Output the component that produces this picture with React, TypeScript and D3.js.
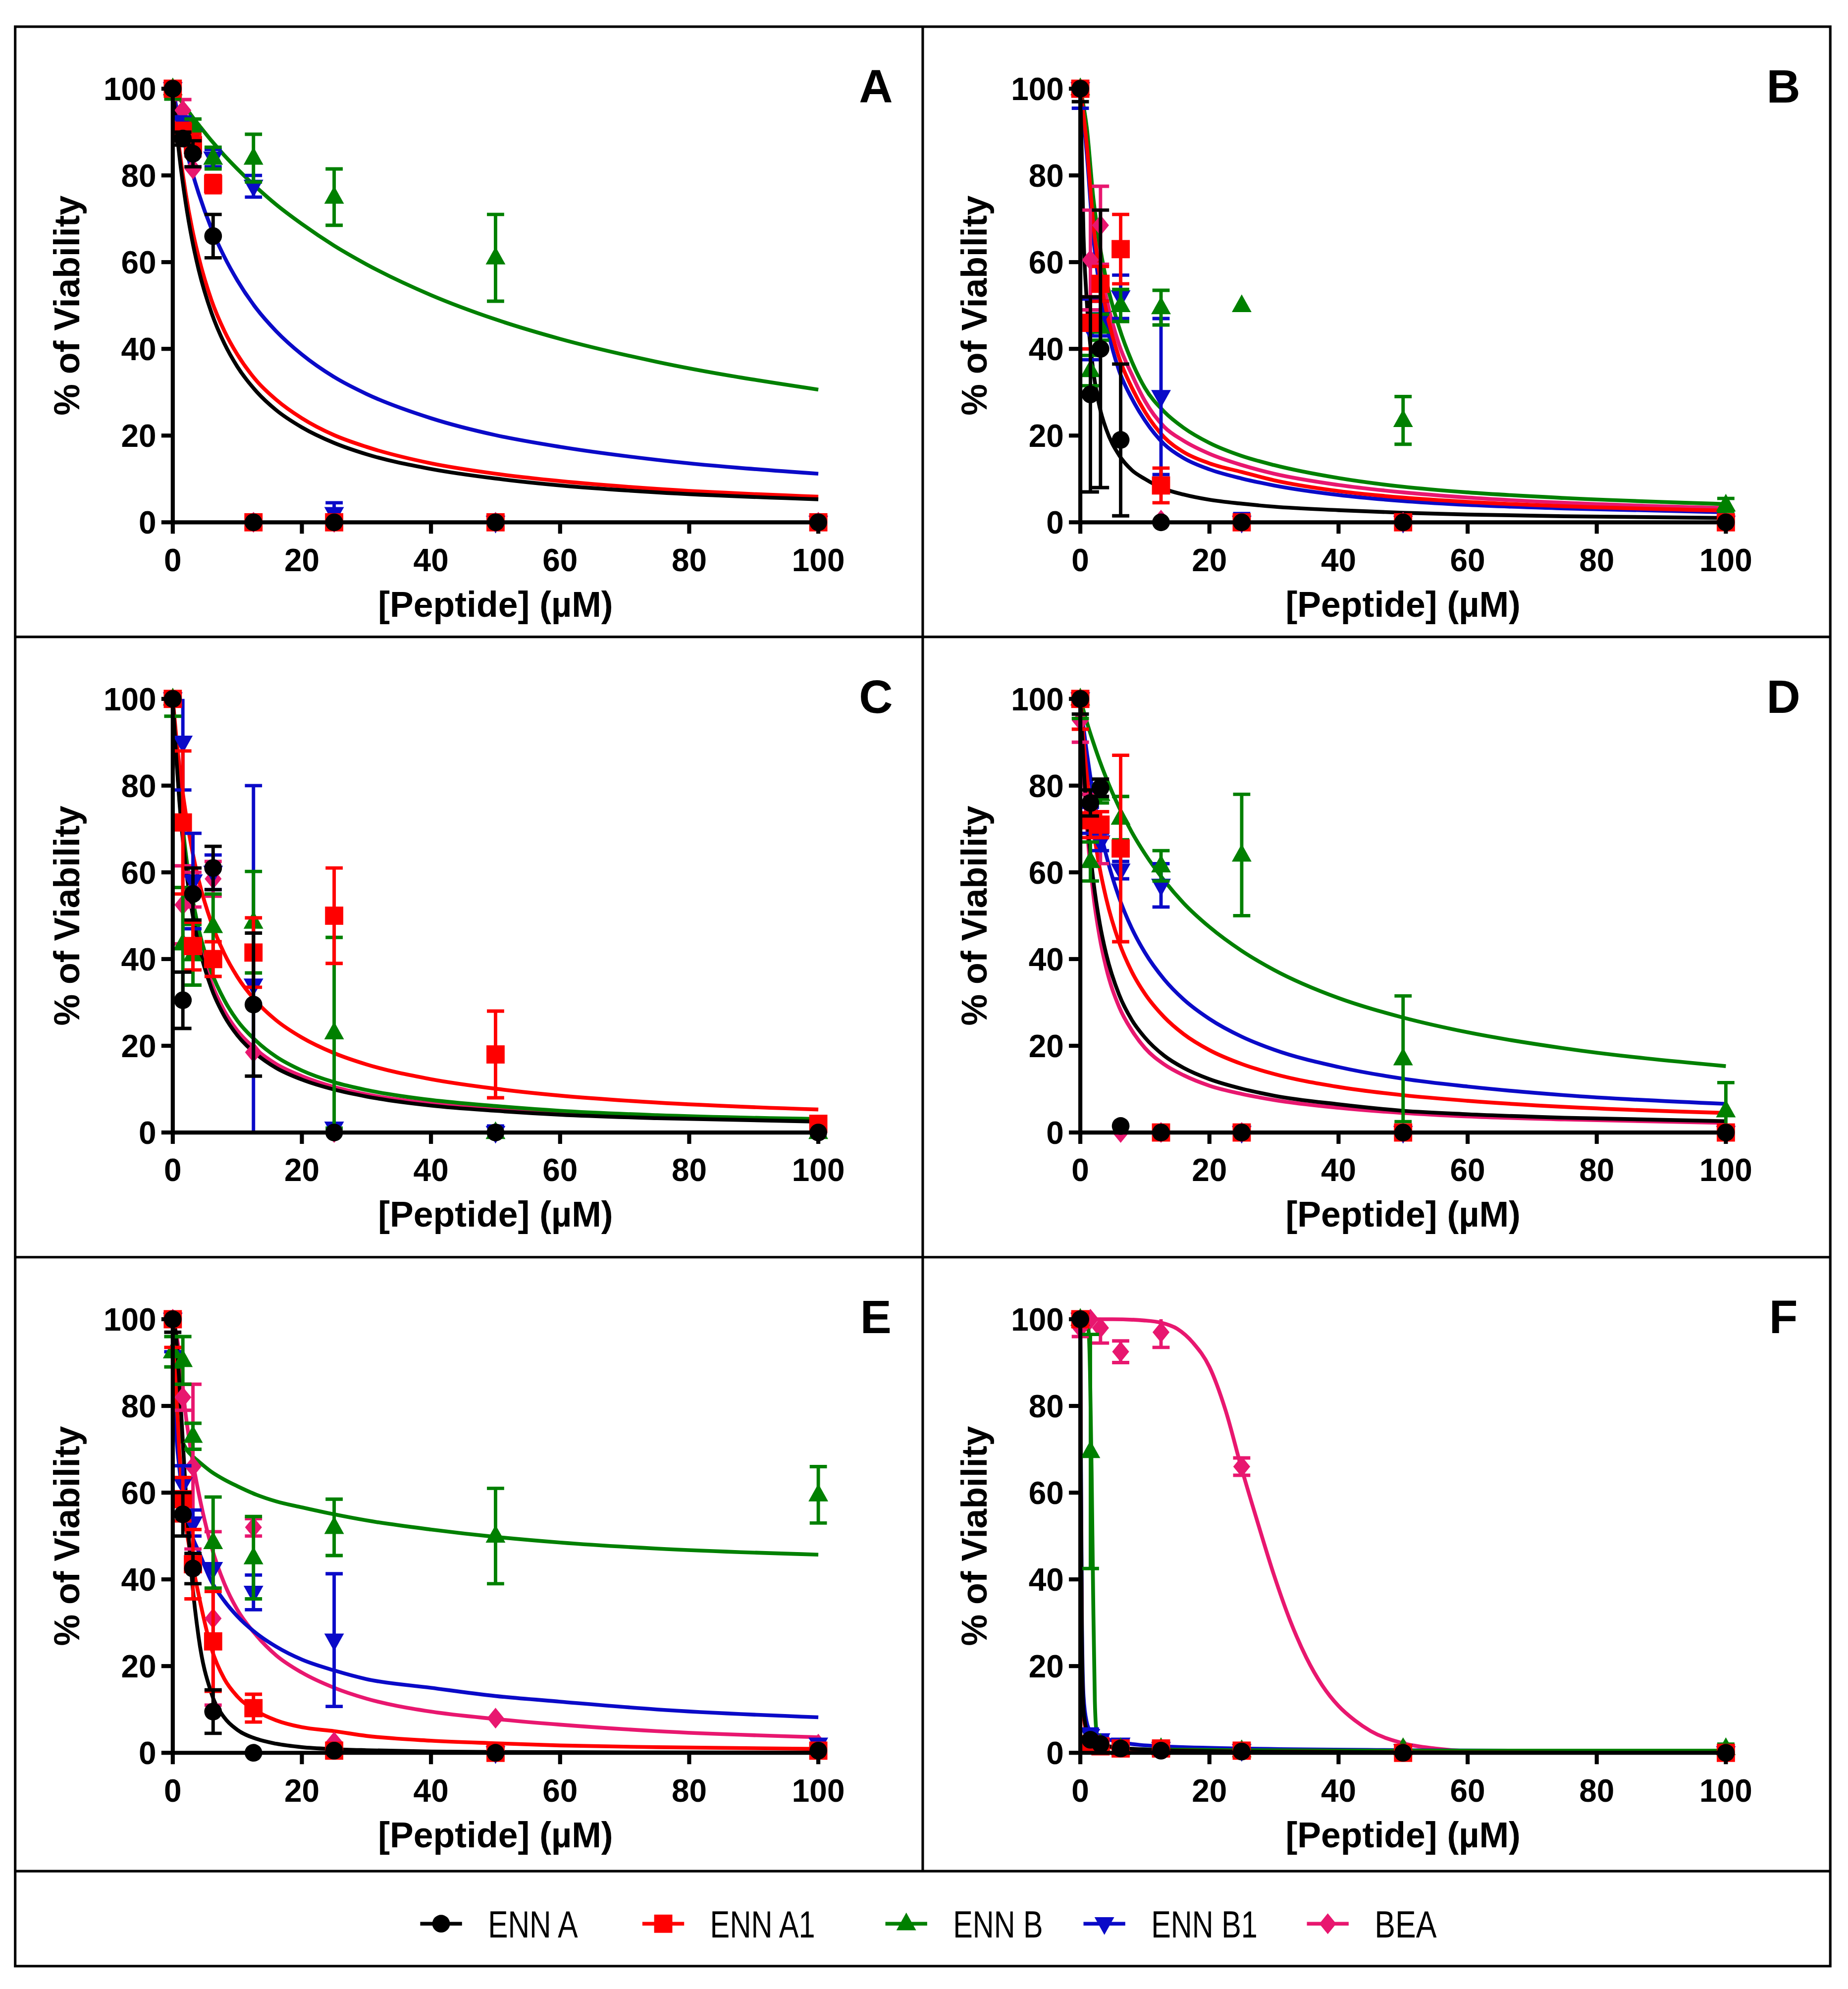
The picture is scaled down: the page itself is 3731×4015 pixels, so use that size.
import * as d3 from "d3";

// series order: ENN A, ENN A1, ENN B, ENN B1, BEA
const SERIES = ["ENN A", "ENN A1", "ENN B", "ENN B1", "BEA"];
const COLORS = ["#000000", "#ff0000", "#008000", "#0a0ac8", "#e8176f"];
const SHAPES = ["circle", "square", "triangle", "triangleDown", "diamond"];

const CONC = [0, 1.5625, 3.125, 6.25, 12.5, 25, 50, 100];
const TICKS = [0, 20, 40, 60, 80, 100];
const CURVE_X = [0, 0.5, 1, 2, 3, 4, 6, 8, 10, 13, 16, 20, 25, 30, 40, 50, 60, 75, 100];

// ---- Panel A
const A_MEAN = [
  [100, 88.5, 85, 66, 0, 0, 0, 0],
  [100, 90, 87, 78, 0, 0, 0, 0],
  [100, null, 91.5, 84, 84, 75, 61, null],
  [100, 92, 89, 84, 77.5, 2, 0, 0],
  [100, 95, 81.5, null, 0, 0, 0, 0],
];
const A_SD = [
  [0, 1.5, 3, 5, 0, 0, 0, 0],
  [0, 2, 2.5, 2, 0, 0, 0, 0],
  [2.4, 0, 1.5, 2.5, 5.5, 6.5, 10, 0],
  [0, 1.5, 1.5, 2, 2.5, 2.5, 0, 0],
  [0, 2.5, 0, 0, 0, 0, 0, 0],
];
const A_FIT = [
  [100, 91.8, 84.8, 73.7, 65.1, 58.3, 48.3, 41.2, 35.9, 30.1, 25.9, 21.9, 18.3, 15.7, 12.3, 10.1, 8.5, 6.9, 5.3],
  [100, 92.6, 86.3, 75.9, 67.7, 61.2, 51.2, 44.1, 38.7, 32.6, 28.3, 24.0, 20.1, 17.4, 13.6, 11.2, 9.5, 7.7, 5.9],
  [100, 98.9, 97.8, 95.7, 93.6, 91.7, 88, 84.6, 81.5, 77.2, 73.3, 68.8, 63.8, 59.5, 52.4, 46.8, 42.3, 37, 30.6],
  [100, 96.2, 92.6, 86.3, 80.8, 75.9, 67.7, 61.2, 55.8, 49.2, 44.1, 38.7, 33.5, 29.6, 24.0, 20.1, 17.4, 14.4, 11.2],
  null,
];

// ---- Panel B
const B_MEAN = [
  [100, 29.5, 40, 19, 0, 0, 0, 0],
  [100, 46, 55, 63, 8.5, 0, 0, 0],
  [100, 35, 45, 50, 49.5, 50, 23.5, 4],
  [100, 44.5, 47, 52, 29, 0, 0, 0],
  [100, 60.5, 68.5, null, 0.5, 0, 0, 0],
];
const B_SD = [
  [3, 22.5, 32, 17.5, 0, 0, 0, 0],
  [0, 6, 4, 8, 4, 0, 0, 0],
  [0, 3.5, 3, 3.7, 4, 0, 5.5, 1.5],
  [4.5, 7, 4, 5, 18, 2, 0, 0],
  [0, 11.5, 9, 0, 0, 0, 0, 0],
];
const B_FIT = [
  [100, 66, 51, 35, 26.5, 21.5, 15.5, 12, 10, 7.7, 6.4, 5.2, 4.3, 3.6, 2.8, 2.2, 1.8, 1.4, 1.0],
  [100, 94, 87, 69, 57, 49, 38, 31, 25.5, 19.6, 16.2, 13.6, 11.6, 9.7, 7.2, 5.7, 4.7, 3.7, 2.7],
  [100, 96, 91, 75, 64, 56, 45, 37, 31, 25.5, 21.8, 18.3, 15.3, 13.2, 10.2, 8.2, 6.9, 5.6, 4.2],
  [100, 93, 85, 66, 54, 46, 35, 28.5, 23.5, 18, 14.8, 12.2, 10.1, 8.5, 6.3, 4.9, 4.0, 3.2, 2.3],
  [100, 95, 89, 72, 60, 52, 41, 34, 28, 22, 18.8, 15.8, 13.2, 11.2, 8.6, 6.9, 5.7, 4.5, 3.3],
];

// ---- Panel C
const C_MEAN = [
  [100, 30.5, 55, 61, 29.5, 0, 0, 0],
  [100, 71.5, 43, 40, 41.5, 50, 18, 2],
  [100, 43.5, 41, 47.5, 48.5, 23, 0, 0],
  [100, 90, 58, 60, 34, 1, 0, null],
  [100, 52.5, 56, 58.5, 18.5, 0, 0, 0],
];
const C_SD = [
  [0, 6.5, 6, 5, 16.5, 0, 0, 0],
  [0, 16.5, 5.5, 4, 8, 11, 10, 0],
  [4, 13, 7, 7.5, 11.7, 22, 0, 0],
  [0, 11, 11, 4, 46, 0, 1.5, 0],
  [0, 9, 4, 4, 0, 0, 0, 0],
];
const C_FIT = [
  [100, 87.4, 76.8, 61.4, 50.9, 43.3, 33.2, 26.8, 22.4, 18.0, 14.9, 12.2, 9.9, 8.3, 6.2, 5.0, 4.1, 3.3, 2.5],
  [100, 91.8, 84.8, 73.7, 65.1, 58.3, 48.3, 41.2, 35.9, 30.1, 25.9, 21.9, 18.3, 15.7, 12.3, 10.1, 8.5, 6.9, 5.3],
  [100, 88.5, 79, 64.5, 54.5, 47, 37, 30.5, 25.8, 21, 17.5, 14.3, 11.6, 9.8, 7.5, 6.1, 5.0, 4.0, 3.1],
  null,
  [100, 87.8, 77.5, 62.5, 52, 44.5, 34.5, 28, 23.5, 19, 15.8, 13, 10.5, 8.8, 6.7, 5.4, 4.4, 3.6, 2.7],
];

// ---- Panel D
const D_MEAN = [
  [100, 76, 79.5, 1.5, 0, 0, 0, 0],
  [100, 72, 71, 65.5, 0, 0, 0, 0],
  [100, 62.5, 78, 72.5, 61.5, 64, 17, 5],
  [100, 72, 67, 60.5, 57, 0, 0, 0],
  [95, 75, 68, 0, 0, 0, 0, 0],
];
const D_SD = [
  [3.5, 3, 2, 0, 0, 0, 0, 0],
  [7, 4, 3, 21.5, 0, 0, 0, 0],
  [4.5, 4.5, 2, 5, 3.5, 14, 14.5, 6.5],
  [0, 3, 2, 2, 5, 0, 0, 0],
  [5, 3, 6, 0, 0, 0, 0, 0],
];
const D_FIT = [
  [100, 84.8, 73.7, 58.3, 48.3, 41.2, 31.8, 25.9, 21.9, 17.7, 14.9, 12.3, 10.1, 8.5, 6.5, 5.0, 4.2, 3.4, 2.6],
  [100, 90.4, 82.5, 70.1, 61, 54, 43.9, 37, 32, 26.6, 22.7, 19, 15.8, 13.5, 10.5, 8.6, 7.3, 5.9, 4.5],
  [100, 97.3, 94.7, 90, 85.7, 81.8, 75, 69.2, 64.3, 58.1, 52.9, 47.4, 41.9, 37.5, 31.0, 26.5, 23.1, 19.4, 15.3],
  [100, 93.4, 87.7, 78, 70.3, 64, 54.2, 47, 41.5, 35.3, 30.7, 26.2, 22.1, 19.1, 15.1, 12.4, 10.6, 8.6, 6.6],
  [100, 83, 71, 55, 45, 38, 29, 23.5, 19.5, 15.7, 13.2, 10.8, 8.9, 7.5, 5.7, 4.5, 3.7, 3, 2.2],
];

// ---- Panel E
const E_MEAN = [
  [100, 55, 42.5, 9.5, 0, 0.5, 0, 0.5],
  [100, 58.5, 43.5, 25.7, 10.3, 0.5, 0, 0.5],
  [92.5, 90.5, 73, 48.5, 45, 52, 50, 59.5],
  [100, 62, 53, 42.5, 37, 26, 0, 2],
  [100, 82, 66, 31, 52, 2.5, 8, 2],
];
const E_SD = [
  [3, 5, 3.5, 5, 0, 0, 0, 0],
  [6.5, 5, 8, 11.5, 3.2, 0, 0, 0],
  [3.5, 5.5, 3, 10.5, 9.5, 6.5, 11, 6.5],
  [7.5, 4.2, 3, 0, 4, 15.3, 0, 0],
  [0, 3, 19, 20, 2, 0, 0, 0],
];
const E_FIT = [
  [100, 96.2, 86, 60.4, 39.5, 26.7, 13.7, 8.1, 5.3, 3.2, 2.1, 1.3, 0.85, 0.6, 0.3, 0.2, 0.15, 0.1, 0.05],
  [100, 85, 70, 53, 44, 36.5, 24, 17, 13, 9.6, 7.5, 5.9, 5.0, 3.9, 2.8, 2.2, 1.7, 1.3, 0.9],
  [100, 82, 74.5, 70.3, 68.5, 67.2, 64.8, 63, 61.5, 59.5, 58, 56.6, 55, 53.6, 51.5, 49.8, 48.5, 47.1, 45.7],
  [100, 75, 66, 56, 50, 46.5, 39.5, 35, 31.5, 27.5, 24.5, 21.5, 19, 17, 15, 13.1, 11.8, 10, 8.2],
  [100, 97, 92, 78, 68, 60, 47.5, 39, 33, 27, 22.5, 18.5, 15, 12.5, 9.5, 7.8, 6.5, 5, 3.6],
];

// ---- Panel F
const F_MEAN = [
  [100, 3, 2, 1, 0.5, 0.3, 0, 0],
  [100, 2, 1.5, 1, 1, 0.5, 0, 0],
  [100, 69.5, 2, 1, 1, 0.5, 1, 1],
  [100, 4, 3, 2, 1, 0.5, 0.5, 0],
  [98, 100, 98, 92.5, 97, 66, 1, 0],
];
const F_SD = [
  [0, 0, 0, 0, 0, 0, 0, 0],
  [0, 0, 0, 0, 0, 0, 0, 0],
  [0, 27, 0, 0, 0, 0, 0, 1],
  [0, 1.5, 1, 1, 0, 0, 0, 0],
  [2, 0, 3.5, 2.5, 3.5, 2, 0, 0],
];
const F_FIT_X = [
  [0, 0.1, 0.25, 0.5, 1, 1.56, 3, 6, 12.5, 25, 50, 100],
  [0, 0.1, 0.25, 0.5, 1, 2, 3, 6, 12.5, 25, 50, 100],
  [0, 1, 1.3, 1.5, 1.75, 2, 2.25, 2.5, 3, 5, 10, 25, 50, 100],
  [0, 0.1, 0.25, 0.5, 1, 1.56, 3, 6, 12.5, 25, 50, 100],
  [0, 5, 10, 12.5, 15, 17.5, 20, 22.5, 25, 27.5, 30, 32.5, 35, 37.5, 40, 42.5, 45, 50, 55, 60, 70, 100],
];
const F_FIT = [
  [100, 60, 25, 10, 5, 3, 2, 1.2, 0.6, 0.3, 0.1, 0],
  [100, 55, 22, 9, 4.5, 2.5, 1.8, 1, 0.6, 0.3, 0.1, 0],
  [100, 99.5, 97, 88, 65, 35, 12, 5, 2.5, 1.2, 0.8, 0.6, 0.5, 0.5],
  [100, 65, 30, 13, 7, 5, 3.8, 2.5, 1.5, 1, 0.6, 0.3],
  [100, 100, 99.7, 99.2, 97.8, 94.5, 89, 79, 65.5, 53, 41, 30.5, 22, 15.5, 10.8, 7.5, 5, 2.2, 1, 0.4, 0.1, 0],
];

const SHARED_X = SERIES.map(() => CURVE_X);

const PANELS = [
  { letter: "A", left: 12, top: 21, mean: A_MEAN, sd: A_SD, fitX: SHARED_X, fit: A_FIT },
  { letter: "B", left: 729, top: 21, mean: B_MEAN, sd: B_SD, fitX: SHARED_X, fit: B_FIT },
  { letter: "C", left: 12, top: 503, mean: C_MEAN, sd: C_SD, fitX: SHARED_X, fit: C_FIT },
  { letter: "D", left: 729, top: 503, mean: D_MEAN, sd: D_SD, fitX: SHARED_X, fit: D_FIT },
  { letter: "E", left: 12, top: 993, mean: E_MEAN, sd: E_SD, fitX: SHARED_X, fit: E_FIT },
  { letter: "F", left: 729, top: 993, mean: F_MEAN, sd: F_SD, fitX: F_FIT_X, fit: F_FIT },
];

const LEGEND_X = [348.5, 524, 716, 872.5, 1049];
const LEGEND_W = [71, 83, 71, 84, 49];

const FONT = "'Liberation Sans', Arial, sans-serif";

function Marker({ shape, cx, cy, color }: { shape: string; cx: number; cy: number; color: string }) {
  if (shape === "circle") return <circle cx={cx} cy={cy} r={7} fill={color} />;
  if (shape === "square") return <rect x={cx - 7.2} y={cy - 7.2} width={14.4} height={14.4} fill={color} />;
  let d = "";
  if (shape === "triangle") d = "M0,-8.8L7.8,5.2L-7.8,5.2Z";
  else if (shape === "triangleDown") d = "M0,8.8L7.8,-5.2L-7.8,-5.2Z";
  else d = "M0,-8.2L6.7,0L0,8.2L-6.7,0Z";
  return <path d={d} transform={`translate(${cx},${cy})`} fill={color} />;
}

function Panel({ letter, left, top, mean, sd, fitX, fit }: any) {
  const x = d3.scaleLinear().domain([0, 100]).range([left + 124.5, left + 634.5]);
  const y = d3.scaleLinear().domain([0, 100]).range([top + 391.5, top + 49]);
  const line = d3
    .line<[number, number]>()
    .x((d) => x(d[0]))
    .y((d) => y(d[1]))
    .curve(d3.curveMonotoneX);
  const order = [4, 3, 2, 1, 0];
  const x0 = x(0);
  const y0 = y(0);

  return (
    <g>
      {/* fitted curves */}
      {order.map((s) =>
        fit[s] ? (
          <path
            key={`c${s}`}
            d={line(fitX[s].map((v: number, i: number) => [v, fit[s][i]]) as [number, number][]) || ""}
            fill="none"
            stroke={COLORS[s]}
            strokeWidth={3}
          />
        ) : null
      )}
      {/* error bars and points */}
      {order.map((s) => (
        <g key={`p${s}`}>
          {CONC.map((c, i) => {
            const m = mean[s][i];
            const e = sd[s][i];
            if (m === null || !e) return null;
            const hi = Math.min(100, m + e);
            const lo = Math.max(0, m - e);
            return (
              <g key={i} stroke={COLORS[s]} strokeWidth={2.7}>
                <line x1={x(c)} x2={x(c)} y1={y(hi)} y2={y(lo)} />
                {m + e <= 100 && <line x1={x(c) - 6.8} x2={x(c) + 6.8} y1={y(hi)} y2={y(hi)} />}
                {m - e >= 0 && <line x1={x(c) - 6.8} x2={x(c) + 6.8} y1={y(lo)} y2={y(lo)} />}
              </g>
            );
          })}
          {CONC.map((c, i) =>
            mean[s][i] === null ? null : (
              <Marker key={i} shape={SHAPES[s]} cx={x(c)} cy={y(mean[s][i])} color={COLORS[s]} />
            )
          )}
        </g>
      ))}
      {/* axes */}
      <line x1={x0} x2={x0} y1={y0 + 1.6} y2={y(100) - 1.6} stroke="#000" strokeWidth={3.2} />
      <line x1={x0 - 1.6} x2={x(100) + 1.6} y1={y0} y2={y0} stroke="#000" strokeWidth={3.2} />
      {TICKS.map((t) => (
        <g key={`t${t}`}>
          <line x1={x0 - 9} x2={x0} y1={y(t)} y2={y(t)} stroke="#000" strokeWidth={3.2} />
          <text
            x={x0 - 13}
            y={y(t) + 9}
            textAnchor="end"
            fontFamily={FONT}
            fontWeight="bold"
            fontSize={25}
          >
            {t}
          </text>
          <line x1={x(t)} x2={x(t)} y1={y0} y2={y0 + 9} stroke="#000" strokeWidth={3.2} />
          <text
            x={x(t)}
            y={y0 + 38.5}
            textAnchor="middle"
            fontFamily={FONT}
            fontWeight="bold"
            fontSize={25}
          >
            {t}
          </text>
        </g>
      ))}
      <text
        x={(x0 + x(100)) / 2}
        y={y0 + 74.5}
        textAnchor="middle"
        fontFamily={FONT}
        fontWeight="bold"
        fontSize={28}
      >
        [Peptide] (µM)
      </text>
      <text
        transform={`translate(${x0 - 74},${(y0 + y(100)) / 2}) rotate(-90)`}
        textAnchor="middle"
        fontFamily={FONT}
        fontWeight="bold"
        fontSize={28}
      >
        % of Viability
      </text>
      <text x={left + 680} y={top + 60} textAnchor="middle" fontFamily={FONT} fontWeight="bold" fontSize={37}>
        {letter}
      </text>
    </g>
  );
}

export default function App() {
  return (
    <svg
      width={3731}
      height={4015}
      viewBox="0 0 1460 1571"
      style={{ position: "absolute", left: 0, top: 0, display: "block", background: "#fff" }}
    >
      <rect x={0} y={0} width={1460} height={1571} fill="#fff" />
      {PANELS.map((p) => (
        <Panel key={p.letter} {...p} />
      ))}
      {/* frame */}
      <rect x={12} y={21} width={1434} height={1532} fill="none" stroke="#000" strokeWidth={2} />
      <line x1={729} x2={729} y1={21} y2={1478} stroke="#000" strokeWidth={2} />
      {[503, 993, 1478].map((yy) => (
        <line key={yy} x1={12} x2={1446} y1={yy} y2={yy} stroke="#000" strokeWidth={2} />
      ))}
      {/* legend */}
      {SERIES.map((name, i) => (
        <g key={name}>
          <line
            x1={LEGEND_X[i] - 16.5}
            x2={LEGEND_X[i] + 16.5}
            y1={1519.5}
            y2={1519.5}
            stroke={COLORS[i]}
            strokeWidth={3}
          />
          <Marker shape={SHAPES[i]} cx={LEGEND_X[i]} cy={1519.5} color={COLORS[i]} />
          <text
            x={LEGEND_X[i] + 37}
            y={1530.5}
            fontFamily={FONT}
            fontSize={30}
            textLength={LEGEND_W[i]}
            lengthAdjust="spacingAndGlyphs"
          >
            {name}
          </text>
        </g>
      ))}
    </svg>
  );
}
